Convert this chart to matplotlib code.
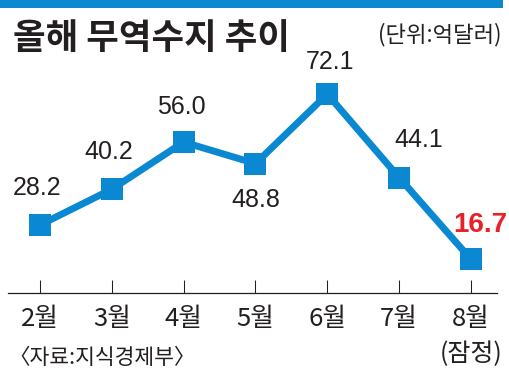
import matplotlib
matplotlib.use("Agg")
import matplotlib.pyplot as plt
from matplotlib.patches import Rectangle

months = ["2월", "3월", "4월", "5월", "6월", "7월", "8월"]
balance = [28.2, 40.2, 56.0, 48.8, 72.1, 44.1, 16.7]
value_labels = ["28.2", "40.2", "56.0", "48.8", "72.1", "44.1", "16.7"]

title = "올해 무역수지 추이"
unit = "(단위:억달러)"
note = "(잠정)"
source = "〈자료:지식경제부〉"

BLUE = "#0a89d2"
RED = "#e8202a"
INK = "#231f20"
KR = ["Noto Sans CJK KR", "DejaVu Sans"]
NUM = ["Liberation Sans", "DejaVu Sans"]

# label offsets from the marker, in points (dx, dy)
offsets = [(-2, 27), (-2, 27), (-2, 25), (0, -26), (2, 23), (14, 27), (7, 25)]

W, H = 510, 378
fig = plt.figure(figsize=(W / 100, H / 100), dpi=100)

# blue band on top
fig.patches.append(Rectangle((0, 1 - 8 / H), 503 / W, 8 / H, transform=fig.transFigure,
                             color=BLUE, lw=0))

fig.text(13 / W, 1 - 39 / H, title, family=KR, fontsize=25.5, fontweight="bold",
         color=INK, va="center", ha="left")
fig.text(502 / W, 1 - 35 / H, unit, family=KR, fontsize=16, color=INK,
         va="center", ha="right")

ax = fig.add_axes([8 / W, 1 - 293 / H, 489 / W, 218 / H])
ax.set_facecolor("none")
x = list(range(len(months)))
ax.plot(x, balance, color=BLUE, lw=5, marker="s", markersize=15.8,
        markeredgewidth=0, solid_joinstyle="miter", clip_on=False, zorder=3)

for i, (v, lab) in enumerate(zip(balance, value_labels)):
    last = i == len(balance) - 1
    ax.annotate(lab, (i, v), xytext=offsets[i], textcoords="offset points",
                ha="center", va="center", family=NUM,
                fontsize=20 if last else 18,
                fontweight="bold" if last else "normal",
                color=RED if last else INK)

ax.set_xlim(-0.445, 6.362)
ax.set_ylim(5.4, 78.5)
for s in ["top", "left", "right"]:
    ax.spines[s].set_visible(False)
ax.spines["bottom"].set_color(INK)
ax.spines["bottom"].set_linewidth(0.9)
ax.set_yticks([])
ax.set_xticks(x)
ax.set_xticklabels(months, family=KR, fontsize=18.5, color=INK)
ax.tick_params(axis="x", direction="in", length=9.4, width=0.75, color=INK, pad=9)

fig.text(471 / W, 1 - 354 / H, note, family=KR, fontsize=18, color=INK,
         ha="center", va="center")
fig.text(8 / W, 1 - 358 / H, source, family=KR, fontsize=15.5, color=INK,
         ha="left", va="center")

fig.savefig("out.png", dpi=100)
